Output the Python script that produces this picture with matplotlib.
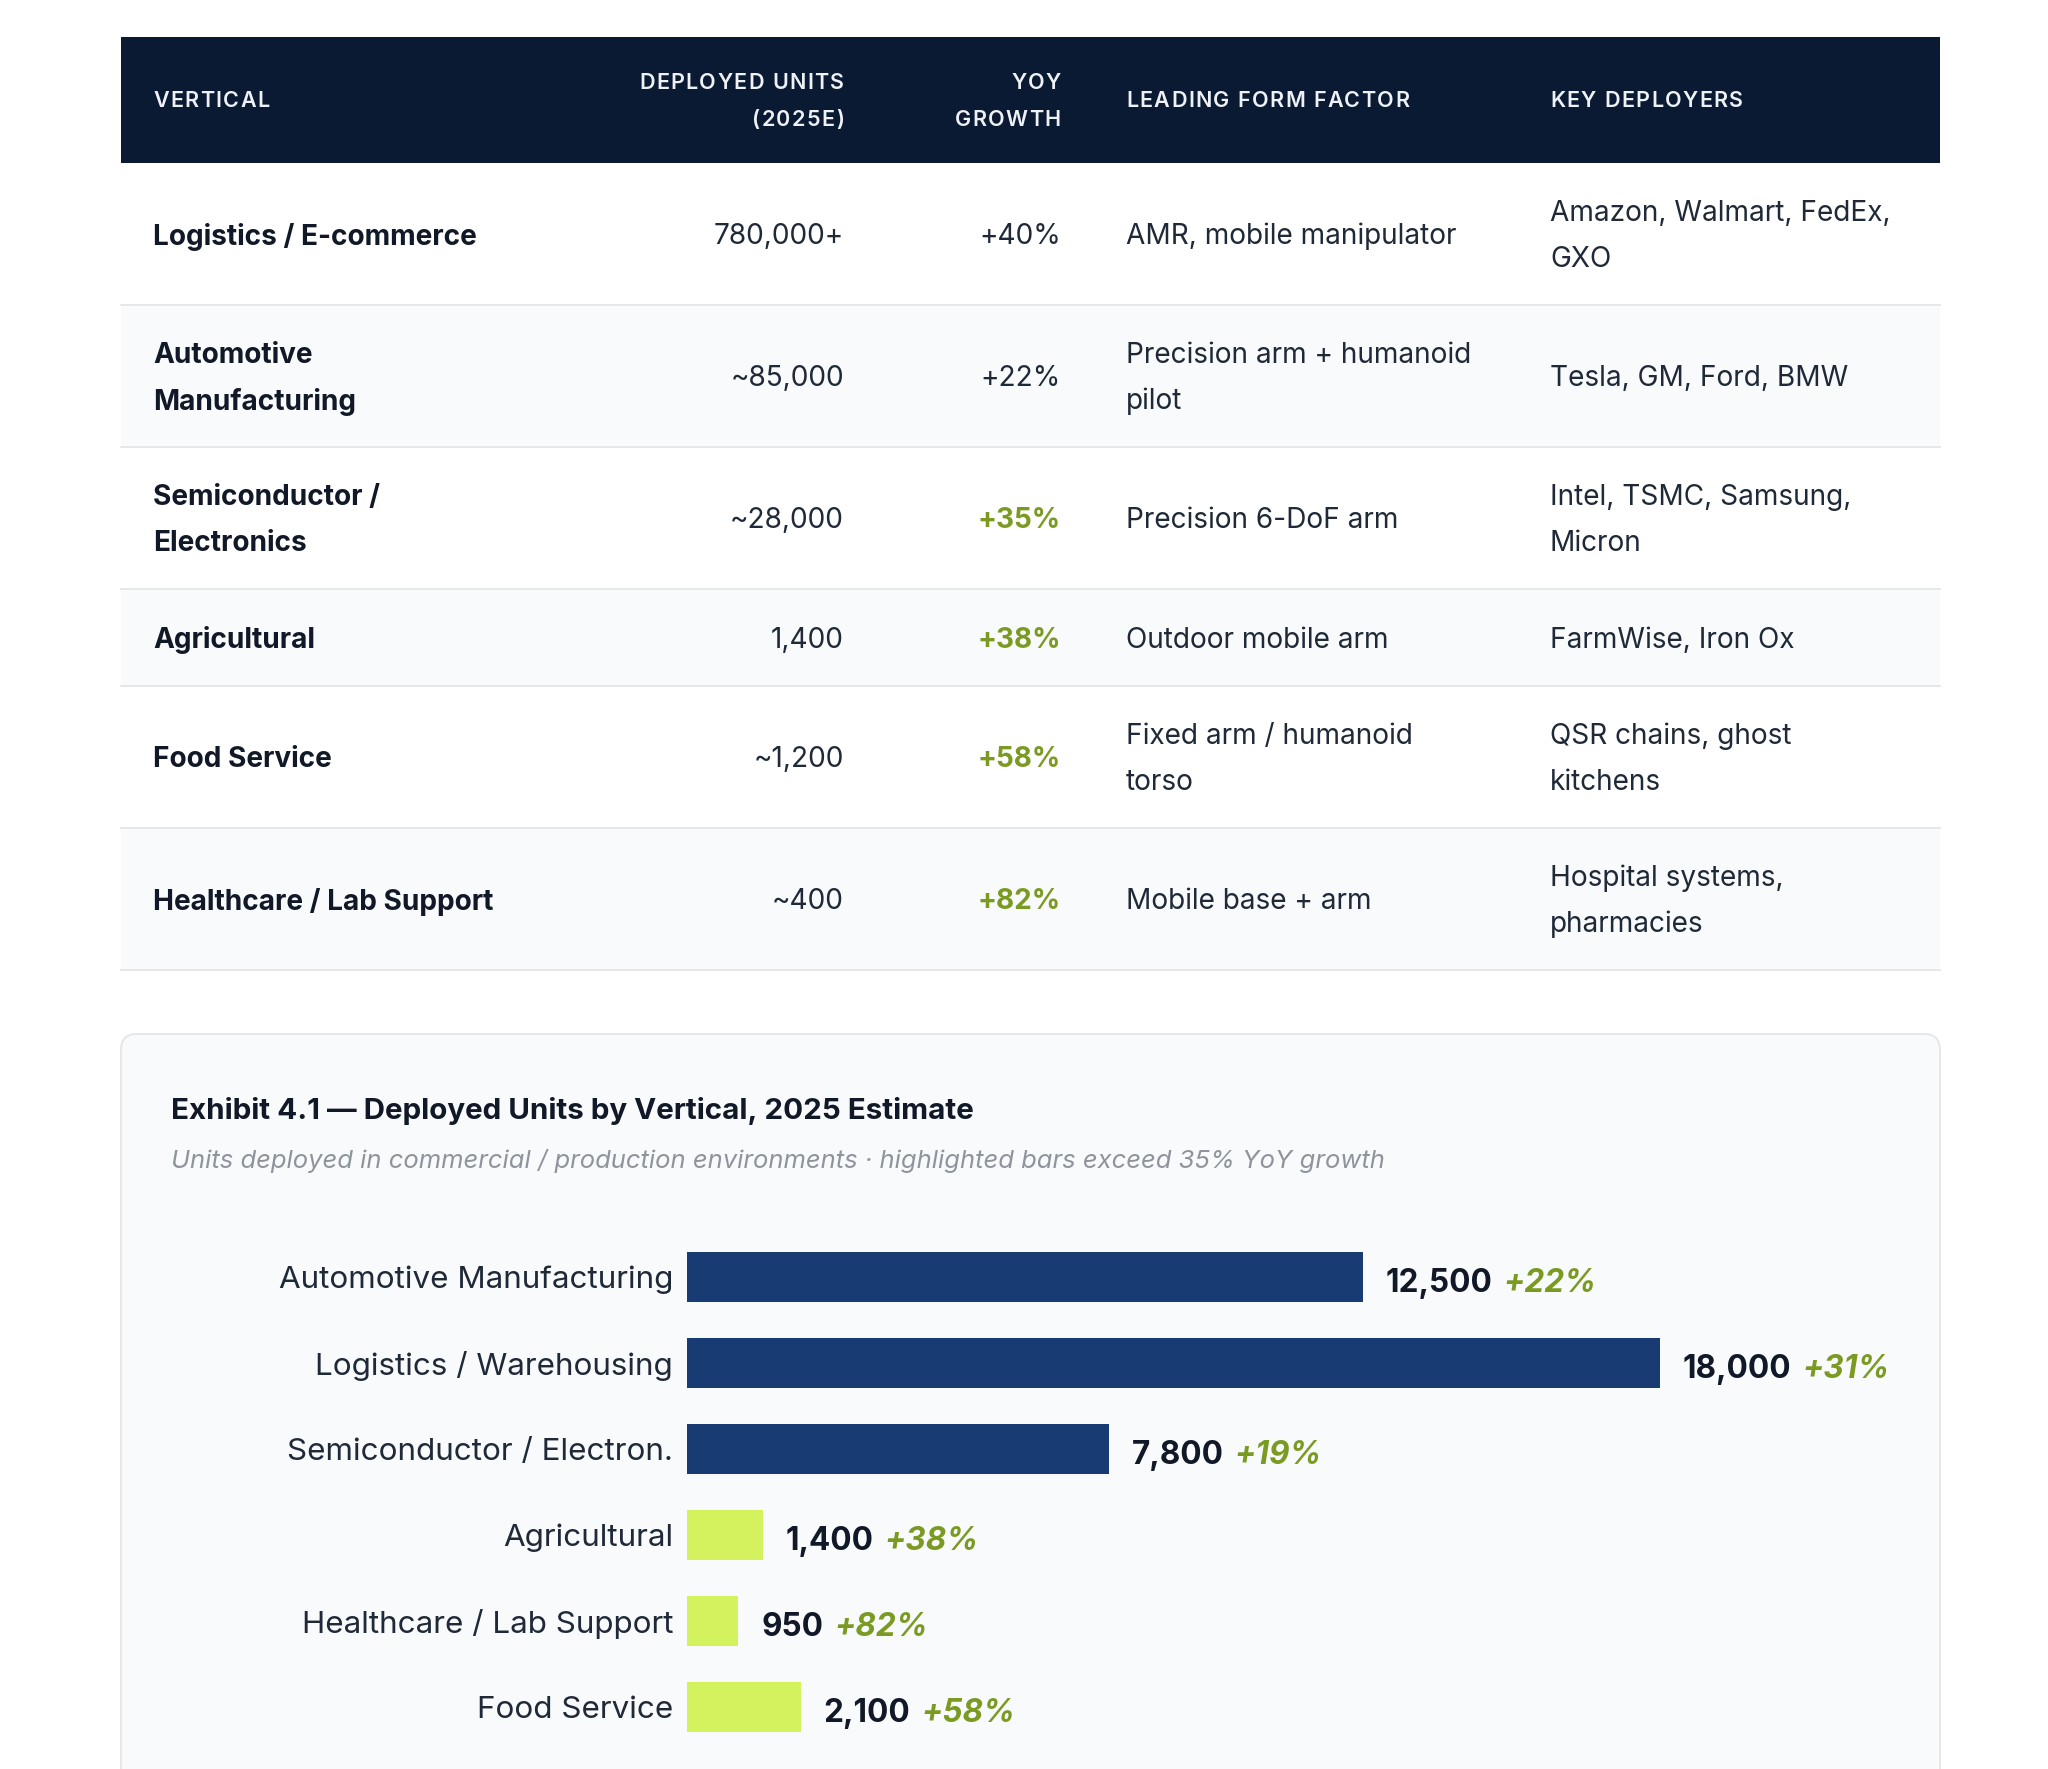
"""Deployment table plus Exhibit 4.1 bar chart (deployed units by vertical)."""

import matplotlib

matplotlib.use("Agg")
import matplotlib.pyplot as plt
from matplotlib.font_manager import FontProperties
from matplotlib.patches import FancyBboxPatch, Rectangle

# ---- table data ----
header_labels = ["VERTICAL", "DEPLOYED UNITS\n(2025E)", "YOY\nGROWTH", "LEADING FORM FACTOR", "KEY DEPLOYERS"]
verticals = [
    "Logistics / E-commerce",
    "Automotive\nManufacturing",
    "Semiconductor /\nElectronics",
    "Agricultural",
    "Food Service",
    "Healthcare / Lab Support",
]
deployed_units = ["780,000+", "~85,000", "~28,000", "1,400", "~1,200", "~400"]
yoy_growth = ["+40%", "+22%", "+35%", "+38%", "+58%", "+82%"]
yoy_highlight = [False, False, True, True, True, True]
form_factors = [
    "AMR, mobile manipulator",
    "Precision arm + humanoid\npilot",
    "Precision 6-DoF arm",
    "Outdoor mobile arm",
    "Fixed arm / humanoid\ntorso",
    "Mobile base + arm",
]
key_deployers = [
    "Amazon, Walmart, FedEx,\nGXO",
    "Tesla, GM, Ford, BMW",
    "Intel, TSMC, Samsung,\nMicron",
    "FarmWise, Iron Ox",
    "QSR chains, ghost\nkitchens",
    "Hospital systems,\npharmacies",
]

# ---- chart data ----
bar_categories = [
    "Automotive Manufacturing",
    "Logistics / Warehousing",
    "Semiconductor / Electron.",
    "Agricultural",
    "Healthcare / Lab Support",
    "Food Service",
]
bar_units = [12500, 18000, 7800, 1400, 950, 2100]
bar_growth = [22, 31, 19, 38, 82, 58]

W, H, DPI = 2048, 1769, 100
NAVY_HEAD = "#0b1a33"
NAVY_BAR = "#173b72"
LIME = "#d4f25e"
GREEN = "#7a9a22"
INK = "#111827"
TEXT = "#1f2937"
STRIPE = "#f8fafc"
RULE = "#e5e7eb"


def pt(px):
    return px * 72.0 / DPI


plt.rcParams["font.family"] = ["Inter", "DejaVu Sans"]

fig = plt.figure(figsize=(W / DPI, H / DPI), dpi=DPI, facecolor="white")
renderer = fig.canvas.get_renderer()
bg = fig.add_axes([0, 0, 1, 1])
bg.set_xlim(0, W)
bg.set_ylim(H, 0)
bg.axis("off")


def spaced_text(x, y, s, ha, prop, spacing, color):
    """Draw one line with extra letter spacing (pixel units, y axis points down)."""
    def width(sub):
        if not sub:
            return 0.0
        return renderer.get_text_width_height_descent(sub, prop, ismath=False)[0]

    total = width(s) + spacing * (len(s) - 1)
    x0 = x - total if ha == "right" else x
    for i, ch in enumerate(s):
        if ch == " ":
            continue
        bg.text(x0 + width(s[:i]) + spacing * i, y, ch, ha="left", va="center",
                fontproperties=prop, color=color)


def cell_lines(x, mid, s, ha, gap, **kw):
    lines = s.split("\n")
    n = len(lines)
    for k, line in enumerate(lines):
        bg.text(x, mid + (k - (n - 1) / 2) * gap, line, ha=ha, va="center", **kw)


# ---- table ----
left, right = 121, 1940
head_top, head_bot = 37, 163
bg.add_patch(Rectangle((left, head_top), right - left, head_bot - head_top, color=NAVY_HEAD, lw=0))

col_x = [153, 844, 1061, 1126, 1550]
col_ha = ["left", "right", "right", "left", "left"]
head_mid = (head_top + head_bot) / 2 + 1
head_prop = FontProperties(family=["Inter", "DejaVu Sans"], weight="semibold", size=pt(21.5))
for label, x, ha in zip(header_labels, col_x, col_ha):
    lines = label.split("\n")
    n = len(lines)
    for k, line in enumerate(lines):
        spaced_text(x, head_mid + (k - (n - 1) / 2) * 37, line, ha, head_prop, 1.4, "#eef1f6")

body_fs = pt(28)
y = head_bot
for i in range(len(verticals)):
    cells = [verticals[i], deployed_units[i], yoy_growth[i], form_factors[i], key_deployers[i]]
    lines = max(c.count("\n") + 1 for c in cells)
    row_h = 97 + 45 * (lines - 1)
    if i % 2 == 1:
        bg.add_patch(Rectangle((left, y), right - left, row_h, color=STRIPE, lw=0))
    bg.plot([left, right], [y + row_h, y + row_h], color=RULE, lw=pt(2))
    mid = y + row_h / 2 + 2.5
    for j, (c, x, ha) in enumerate(zip(cells, col_x, col_ha)):
        color, weight = TEXT, "normal"
        if j == 0:
            color, weight = INK, "bold"
        if j == 2 and yoy_highlight[i]:
            color, weight = GREEN, "bold"
        cell_lines(x, mid, c, ha, 46, color=color, fontsize=body_fs, fontweight=weight)
    y += row_h

# ---- chart card ----
card_top = 1034
bg.add_patch(FancyBboxPatch((left, card_top), right - left, H + 40 - card_top,
                            boxstyle="round,pad=0,rounding_size=16",
                            facecolor=STRIPE, edgecolor=RULE, lw=pt(2)))
bg.text(171, 1111, "Exhibit 4.1 \u2014 Deployed Units by Vertical, 2025 Estimate",
        ha="left", va="center", color=INK, fontsize=pt(29.6), fontweight="bold")
bg.text(171, 1161,
        "Units deployed in commercial / production environments \u00b7 highlighted bars exceed 35% YoY growth",
        ha="left", va="center", color="#8f949c", fontsize=pt(25.6), style="italic")

# bar axes: left edge at x=687 px, 973 px for 18,000 units, rows 86 px apart
ax_left, ax_right = 687, 1940
ax_top, ax_bot = 1234, 1750
px_per_unit = 973 / 18000
ax = fig.add_axes([ax_left / W, 1 - ax_bot / H, (ax_right - ax_left) / W, (ax_bot - ax_top) / H])
ax.patch.set_alpha(0)
ax.set_xlim(0, (ax_right - ax_left) / px_per_unit)
ax.set_ylim(len(bar_categories) - 0.5, -0.5)
ax.set_xticks([])
ax.set_yticks([])
for s in ax.spines.values():
    s.set_visible(False)

ypos = list(range(len(bar_categories)))
colors = [LIME if g > 35 else NAVY_BAR for g in bar_growth]
ax.barh(ypos, bar_units, height=50 / 86, color=colors, lw=0)

for yi, cat, v, g in zip(ypos, bar_categories, bar_units, bar_growth):
    ax.annotate(cat, xy=(0, yi), xytext=(-pt(14), -pt(3)), textcoords="offset points",
                ha="right", va="center", fontsize=pt(31.4), color=TEXT, annotation_clip=False)
    val = ax.annotate(f"{v:,}", xy=(v, yi), xytext=(pt(23), -pt(6)), textcoords="offset points",
                      ha="left", va="center", fontsize=pt(31.5), fontweight="bold", color=INK)
    ax.annotate(f"+{g}%", xy=(1, 0.5), xycoords=val, xytext=(pt(11), 0),
                textcoords="offset points", ha="left", va="center",
                fontsize=pt(31.5), fontweight="bold", style="italic", color=GREEN)

fig.savefig("out.png", dpi=DPI, facecolor="white")
